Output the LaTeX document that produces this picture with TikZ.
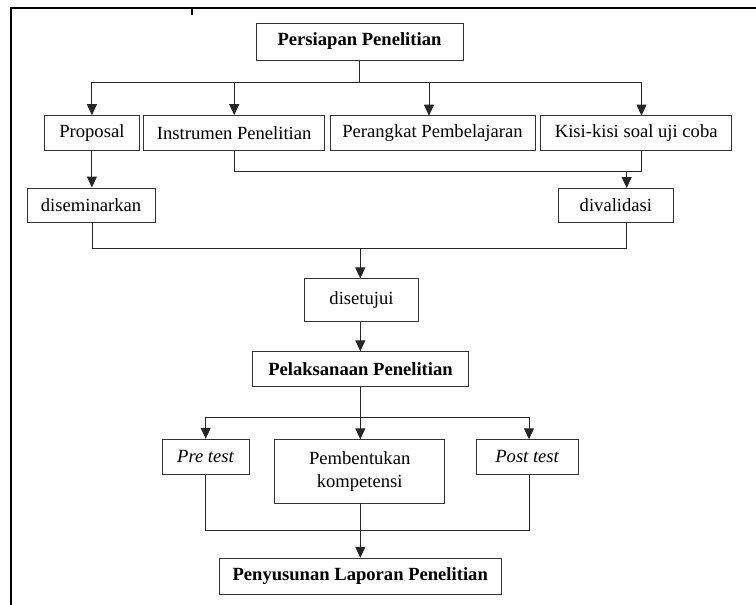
\documentclass[tikz,border=0pt]{standalone}
\usepackage{fontspec}
\setmainfont{Liberation Serif}
\usetikzlibrary{arrows.meta}
\begin{document}
\begin{tikzpicture}[x=1pt,y=-1pt,
  box/.style={draw=black!80,line width=1pt,inner sep=0pt,align=center,
    font=\fontsize{18.6}{23}\selectfont,text=black},
  conn/.style={draw=black!85,line width=1pt},
  arr/.style={conn,-{Triangle[length=11pt,width=10pt]}},
  frame/.style={draw=black,line width=2pt}]
\useasboundingbox[fill=white] (0,0) rectangle (756,605);
\draw[frame] (11,606) -- (11,8) -- (757,8);
\draw[frame] (192,8) -- (192,15);

\node[box,minimum width=207pt,minimum height=37pt] (pp) at (359.5,41.5) {\textbf{Persiapan Penelitian}};
\node[box,minimum width=94.3pt,minimum height=35.3pt] (prop) at (91.9,133.3) {Proposal};
\node[box,minimum width=181pt,minimum height=35.3pt] (instr) at (234.2,133.3) {Instrumen Penelitian};
\node[box,minimum width=205pt,minimum height=35.3pt] (perang) at (432.5,133.3) {Perangkat Pembelajaran};
\node[box,minimum width=191pt,minimum height=35.3pt] (kisi) at (636.2,133.3) {Kisi-kisi soal uji coba};
\node[box,minimum width=128pt,minimum height=34pt] (dis) at (91,205) {diseminarkan};
\node[box,minimum width=115.7pt,minimum height=34pt] (div) at (615.9,205) {divalidasi};
\node[box,minimum width=114.4pt,minimum height=42.7pt] (set) at (361.5,300.3) {disetujui};
\node[box,minimum width=215.6pt,minimum height=35pt] (pel) at (360.5,368.8) {\textbf{Pelaksanaan Penelitian}};
\node[box,minimum width=86.7pt,minimum height=35pt] (pre) at (205.7,456.8) {\textit{Pre test}};
\node[box,minimum width=170pt,minimum height=63.7pt] (pemb) at (359.7,471.2) {Pembentukan\\kompetensi};
\node[box,minimum width=102pt,minimum height=35pt] (post) at (527.3,456.8) {\textit{Post test}};
\node[box,minimum width=282.3pt,minimum height=36.4pt] (pen) at (360.2,576.5) {\textbf{Penyusunan Laporan Penelitian}};

% top split
\coordinate (j1) at (359.5,82);
\draw[conn] (pp.south) -- (j1);
\draw[conn] (92,82) -- (641.5,82);
\draw[arr] (prop.north |- j1) -- (prop.north);
\draw[arr] (instr.north |- j1) -- (instr.north);
\draw[arr] (429,82) -- (429,115.65);
\draw[arr] (641.5,82) -- (641.5,115.65);

% proposal -> diseminarkan
\draw[arr] (prop.south) -- (dis.north -| prop.south);

% instrumen + kisi -> divalidasi
\coordinate (j2) at (0,171);
\draw[conn] (instr.south) -- (instr.south |- j2) -- (641.5,171) -- (641.5,151);
\draw[arr] (626.7,171) -- (626.7,188);

% diseminarkan + divalidasi -> disetujui
\coordinate (j3) at (0,248);
\draw[conn] (92,222) -- (92,248) -- (626.7,248) -- (626.7,222);
\draw[arr] (360.3,248) -- (set.north -| 360.3,0);

% disetujui -> pelaksanaan
\draw[arr] (360.3,321.65) -- (360.3,351.3);

% pelaksanaan split
\draw[conn] (360.3,386.3) -- (360.3,417.3);
\draw[conn] (pre.north |- 0,417.3) -- (529,417.3);
\draw[arr] (pre.north |- 0,417.3) -- (pre.north);
\draw[arr] (360.3,417.3) -- (360.3,439.3);
\draw[arr] (529,417.3) -- (529,439.3);

% join to penyusunan
\draw[conn] (pre.south) -- (pre.south |- 0,530) -- (529,530) -- (529,474.3);
\draw[arr] (360.3,503) -- (pen.north -| 360.3,0);
\end{tikzpicture}
\end{document}
